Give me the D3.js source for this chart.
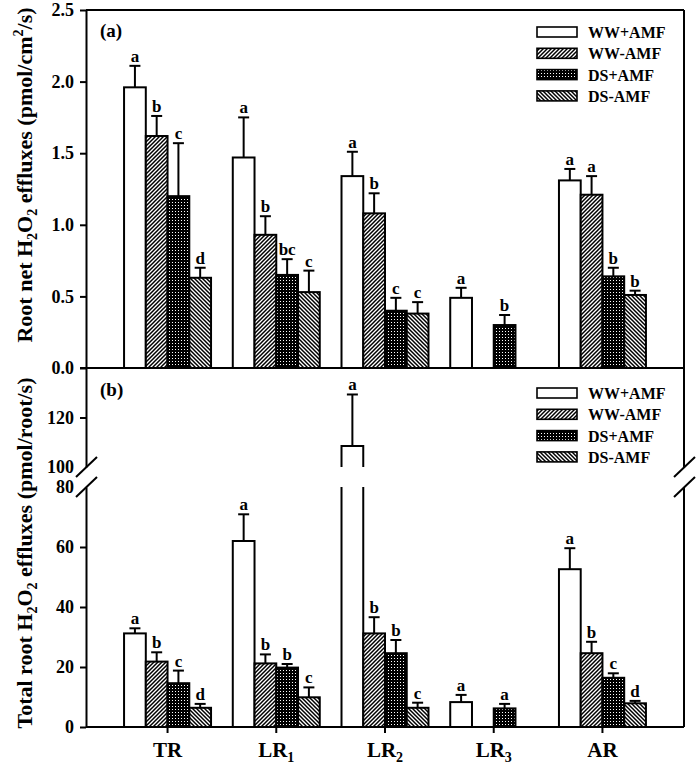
<!DOCTYPE html>
<html><head><meta charset="utf-8">
<script src="https://cdn.jsdelivr.net/npm/d3@7"></script>
<style>
body{margin:0;background:#fff;}
text{font-family:"Liberation Serif","Times New Roman",serif;font-weight:bold;fill:#000;}
</style></head>
<body>
<svg id="chart" width="700" height="773"></svg>
<script>
// ---- data ----
const groups = ["TR", "LR1", "LR2", "LR3", "AR"];
const groupBase = ["TR", "LR", "LR", "LR", "AR"];
const groupSub = ["", "1", "2", "3", ""];
const series = ["WW+AMF", "WW-AMF", "DS+AMF", "DS-AMF"];

// panel (a): Root net H2O2 effluxes (pmol/cm2/s)
const aWWp = [1.96, 1.47, 1.34, 0.49, 1.31];
const aWWm = [1.62, 0.93, 1.08, null, 1.21];
const aDSp = [1.20, 0.65, 0.40, 0.30, 0.64];
const aDSm = [0.63, 0.53, 0.38, null, 0.51];
const aErrWWp = [0.15, 0.28, 0.17, 0.07, 0.08];
const aErrWWm = [0.14, 0.13, 0.14, null, 0.13];
const aErrDSp = [0.37, 0.11, 0.09, 0.07, 0.06];
const aErrDSm = [0.07, 0.15, 0.08, null, 0.03];
const aLetWWp = ["a", "a", "a", "a", "a"];
const aLetWWm = ["b", "b", "b", null, "a"];
const aLetDSp = ["c", "bc", "c", "b", "b"];
const aLetDSm = ["d", "c", "c", null, "b"];

// panel (b): Total root H2O2 effluxes (pmol/root/s)
const bWWp = [31.2, 62.0, 108.5, 8.3, 52.6];
const bWWm = [21.8, 21.2, 31.2, null, 24.6];
const bDSp = [14.6, 19.8, 24.6, 6.2, 16.4];
const bDSm = [6.4, 9.9, 6.4, null, 7.9];
const bErrWWp = [1.7, 8.9, 20.8, 2.4, 7.0];
const bErrWWm = [3.1, 3.0, 5.4, null, 3.8];
const bErrDSp = [4.2, 1.2, 4.4, 1.5, 1.5];
const bErrDSm = [1.3, 3.3, 1.7, null, 0.8];
const bLetWWp = ["a", "a", "a", "a", "a"];
const bLetWWm = ["b", "b", "b", null, "b"];
const bLetDSp = ["c", "b", "b", "a", "c"];
const bLetDSm = ["d", "c", "c", null, "d"];

const aTicks = [0, 0.5, 1.0, 1.5, 2.0, 2.5];
const bLowTicks = [0, 20, 40, 60, 80];
const bHighTicks = [100, 120];
const bBreak = [80, 100];

// ---- layout ----
const svg = d3.select("#chart");
const L = 86, R = 684;
const x = d3.scaleLinear().domain([-0.75, 4.75]).range([L, R]);
const barW = 0.2;
const yA = d3.scaleLinear().domain([0, 2.5]).range([368, 10]);
const yLow = d3.scaleLinear().domain([0, bBreak[0]]).range([727, 487]);
const yHigh = d3.scaleLinear().domain([bBreak[1], 140]).range([467, 368]);
const yB = v => v <= bBreak[0] ? yLow(v) : yHigh(v);

// ---- patterns ----
const defs = svg.append("defs");
const pf = defs.append("pattern").attr("id", "fwd").attr("patternUnits", "userSpaceOnUse").attr("width", 4).attr("height", 4);
pf.append("rect").attr("width", 4).attr("height", 4).attr("fill", "#fff");
pf.append("path").attr("d", "M-1,1 L1,-1 M0,4 L4,0 M3,5 L5,3").attr("stroke", "#000").attr("stroke-width", 1.5);
const pb = defs.append("pattern").attr("id", "bwd").attr("patternUnits", "userSpaceOnUse").attr("width", 4).attr("height", 4);
pb.append("rect").attr("width", 4).attr("height", 4).attr("fill", "#fff");
pb.append("path").attr("d", "M-1,3 L1,5 M0,0 L4,4 M3,-1 L5,1").attr("stroke", "#000").attr("stroke-width", 1.5);
const pd = defs.append("pattern").attr("id", "dots").attr("patternUnits", "userSpaceOnUse").attr("width", 3).attr("height", 3);
pd.append("rect").attr("width", 3).attr("height", 3).attr("fill", "#000");
pd.append("rect").attr("x", 1).attr("y", 1).attr("width", 1).attr("height", 1).attr("fill", "#fff");
const fills = ["#fff", "url(#fwd)", "url(#dots)", "url(#bwd)"];

function drawPanel(vals, errs, lets, yf, isB) {
  const g = svg.append("g");
  vals.forEach((arr, si) => {
    arr.forEach((v, gi) => {
      if (v == null) return;
      const x0 = x(gi + (si - 2) * barW), x1 = x(gi + (si - 1) * barW);
      if (isB && v > bBreak[0]) {
        // broken bar
        g.append("path").attr("d", `M${x0},${yHigh(bBreak[1])} V${yHigh(v)} H${x1} V${yHigh(bBreak[1])}`)
          .attr("fill", fills[si]).attr("stroke", "#000").attr("stroke-width", 2);
        g.append("path").attr("d", `M${x0},${yLow(bBreak[0])} V${yLow(0)} M${x1},${yLow(bBreak[0])} V${yLow(0)}`)
          .attr("fill", "none").attr("stroke", "#000").attr("stroke-width", 2);
      } else {
        g.append("rect").attr("x", x0).attr("y", yf(v)).attr("width", x1 - x0).attr("height", yf(0) - yf(v))
          .attr("fill", fills[si]).attr("stroke", "#000").attr("stroke-width", 2);
      }
      const xc = (x0 + x1) / 2;
      const top = v + errs[si][gi];
      g.append("line").attr("x1", xc).attr("x2", xc).attr("y1", yf(v)).attr("y2", yf(top))
        .attr("stroke", "#000").attr("stroke-width", 2);
      g.append("line").attr("x1", xc - 5.5).attr("x2", xc + 5.5).attr("y1", yf(top)).attr("y2", yf(top))
        .attr("stroke", "#000").attr("stroke-width", 2);
      g.append("text").attr("x", xc).attr("y", yf(top) - 4).attr("text-anchor", "middle")
        .attr("font-size", 17).text(lets[si][gi]);
    });
  });
}

drawPanel([aWWp, aWWm, aDSp, aDSm], [aErrWWp, aErrWWm, aErrDSp, aErrDSm], [aLetWWp, aLetWWm, aLetDSp, aLetDSm], yA, false);
drawPanel([bWWp, bWWm, bDSp, bDSm], [bErrWWp, bErrWWm, bErrDSp, bErrDSm], [bLetWWp, bLetWWm, bLetDSp, bLetDSm], yB, true);

// ---- axes ----
function styleAxis(sel) {
  sel.selectAll("path").attr("stroke-width", 2);
  sel.selectAll("line").attr("stroke-width", 2);
  sel.selectAll("text").attr("font-size", 18).attr("font-family", "Liberation Serif").attr("font-weight", "bold");
}
const axA = svg.append("g").attr("transform", `translate(${L},0)`)
  .call(d3.axisLeft(yA).tickValues(aTicks).tickFormat(d3.format(".1f")).tickSize(6).tickPadding(6).tickSizeOuter(0));
styleAxis(axA);
const axBL = svg.append("g").attr("transform", `translate(${L},0)`)
  .call(d3.axisLeft(yLow).tickValues(bLowTicks).tickSize(6).tickPadding(6).tickSizeOuter(0));
styleAxis(axBL);
axBL.selectAll(".tick").filter(d => d === bBreak[0]).select("line").remove();
const axBH = svg.append("g").attr("transform", `translate(${L},0)`)
  .call(d3.axisLeft(yHigh).tickValues(bHighTicks).tickSize(6).tickPadding(6).tickSizeOuter(0));
styleAxis(axBH);
axBH.selectAll(".tick").filter(d => d === bBreak[1]).select("line").remove();

// frame lines
const frame = svg.append("g").attr("stroke", "#000").attr("stroke-width", 2).attr("fill", "none");
frame.append("line").attr("x1", L).attr("x2", R).attr("y1", yA(2.5)).attr("y2", yA(2.5));
frame.append("line").attr("x1", L - 6).attr("x2", R).attr("y1", yA(0)).attr("y2", yA(0));
frame.append("line").attr("x1", R).attr("x2", R).attr("y1", yA(2.5)).attr("y2", yHigh(bBreak[1]));
frame.append("line").attr("x1", R).attr("x2", R).attr("y1", yLow(bBreak[0])).attr("y2", yLow(0));
frame.append("line").attr("x1", L).attr("x2", R).attr("y1", yLow(0)).attr("y2", yLow(0));
// break marks
[L, R].forEach(xx => {
  [yHigh(bBreak[1]), yLow(bBreak[0])].forEach(yy => {
    frame.append("line").attr("x1", xx - 10).attr("x2", xx + 11).attr("y1", yy + 10).attr("y2", yy - 10);
  });
});

// x ticks + labels (bottom)
groups.forEach((gname, gi) => {
  svg.append("line").attr("x1", x(gi)).attr("x2", x(gi)).attr("y1", yLow(0)).attr("y2", yLow(0) + 6)
    .attr("stroke", "#000").attr("stroke-width", 2);
  const t = svg.append("text").attr("x", x(gi)).attr("y", 757).attr("text-anchor", "middle").attr("font-size", 21);
  t.append("tspan").text(groupBase[gi]);
  if (groupSub[gi]) t.append("tspan").attr("font-size", 14).attr("dy", 5).text(groupSub[gi]);
});

// panel labels
svg.append("text").attr("x", 100).attr("y", 37).attr("font-size", 19).text("(a)");
svg.append("text").attr("x", 100).attr("y", 396).attr("font-size", 19).text("(b)");

// y titles
function yTitle(cx, cy, parts) {
  const t = svg.append("text").attr("transform", `translate(${cx},${cy}) rotate(-90)`)
    .attr("text-anchor", "middle").attr("font-size", 22);
  parts.forEach(p => {
    const s = t.append("tspan").text(p[0]);
    if (p[1] === "sub") s.attr("font-size", 14).attr("dy", 5);
    else if (p[1] === "sup") s.attr("font-size", 14).attr("dy", -9);
    else if (p[1] === "subback") s.attr("dy", -5);
    else if (p[1] === "supback") s.attr("dy", 9);
  });
}
yTitle(32, 175, [["Root net H"], ["2", "sub"], ["O", "subback"], ["2", "sub"], [" effluxes (pmol/cm", "subback"], ["2", "sup"], ["/s)", "supback"]]);
yTitle(32, 553, [["Total root H"], ["2", "sub"], ["O", "subback"], ["2", "sub"], [" effluxes (pmol/root/s)", "subback"]]);

// legends
function legend(y0) {
  series.forEach((s, i) => {
    const yy = y0 + i * 21.3;
    svg.append("rect").attr("x", 537).attr("y", yy - 5).attr("width", 40).attr("height", 10)
      .attr("fill", fills[i]).attr("stroke", "#000").attr("stroke-width", 1.6);
    svg.append("text").attr("x", 588).attr("y", yy + 6).attr("font-size", 16).text(s);
  });
}
legend(32);
legend(393);
</script>
</body></html>
